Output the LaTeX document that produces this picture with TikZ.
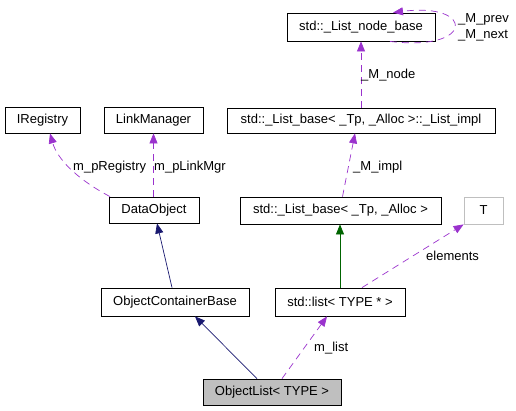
\documentclass[tikz,border=0pt]{standalone}
\usepackage{fontspec}
\setmainfont{Liberation Sans}
\usetikzlibrary{arrows.meta}
\definecolor{dep}{HTML}{9A32CD}
\definecolor{inh}{HTML}{191970}
\definecolor{tmpl}{HTML}{006400}
\definecolor{gry}{HTML}{BFBFBF}
\tikzset{
  cls/.style={draw=black, line width=0.8pt, inner sep=0pt, font=\fontsize{13}{15}\selectfont},
  lbl/.style={anchor=west, inner sep=0pt, font=\fontsize{13}{15}\selectfont},
  tip/.style={-{Triangle[length=10pt,width=8pt]}},
  depl/.style={tip, draw=dep, dash pattern=on 7pt off 5pt, line width=0.7pt},
  inhl/.style={tip, draw=inh, line width=0.7pt},
  tmpll/.style={tip, draw=tmpl, line width=0.7pt},
}
\begin{document}
\begin{tikzpicture}[x=1pt,y=-1pt]
\useasboundingbox (0,0) rectangle (516,410);
\node[cls, minimum width=148pt, minimum height=28pt] (nb) at (361,27) {std::\_List\_node\_base};
\node[cls, minimum width=75pt, minimum height=26pt] (ireg) at (42.5,120) {IRegistry};
\node[cls, minimum width=99pt, minimum height=26pt] (lm) at (153.5,120) {LinkManager};
\node[cls, minimum width=268pt, minimum height=25pt] (impl) at (361,120.5) {std::\_List\_base< \_Tp, \_Alloc >::\_List\_impl};
\node[cls, minimum width=90pt, minimum height=26pt] (dobj) at (154,210) {DataObject};
\node[cls, minimum width=201pt, minimum height=27pt] (lb) at (340.5,210.5) {std::\_List\_base< \_Tp, \_Alloc >};
\node[cls, draw=gry, minimum width=39pt, minimum height=27pt] (t) at (483.5,210.5) {T};
\node[cls, minimum width=148pt, minimum height=28pt] (ocb) at (175,302) {ObjectContainerBase};
\node[cls, minimum width=130pt, minimum height=28pt] (sl) at (340,302) {std::list< TYPE * >};
\node[cls, fill=gry, minimum width=138pt, minimum height=26pt] (ol) at (272,392) {ObjectList< TYPE >};

% self loop
\draw[depl] ([xshift=29pt]nb.south) .. controls (475,52) and (475,2) .. ([xshift=32pt]nb.north);
\node[lbl] (lprev) at (458,19) {\_M\_prev};
\node[lbl] (lnext) at (458,35) {\_M\_next};

% impl -> node base
\draw[depl] (impl.north -| nb.south) -- (nb.south);
\node[lbl] (lnode) at (361,75) {\_M\_node};

% DataObject -> IRegistry, LinkManager
\draw[depl] ([xshift=-44pt]dobj.north) .. controls (75,178) and (57,158) .. ([xshift=7.5pt]ireg.south);
\node[lbl] (lreg) at (73,167) {m\_pRegistry};
\draw[depl] (dobj.north -| lm.south) -- (lm.south);
\node[lbl] (llm) at (154,167) {m\_pLinkMgr};

% list base -> impl
\draw[depl] ([xshift=2pt]lb.north) -- ([xshift=-6pt]impl.south);
\node[lbl] (limpl) at (353,167) {\_M\_impl};

% OCB -> DataObject
\draw[inhl] ([xshift=-3pt]ocb.north) -- ([xshift=3pt]dobj.south);
% ObjectList -> OCB
\draw[inhl] ([xshift=-15pt]ol.north) -- ([xshift=20pt]ocb.south);

% std::list -> list base
\draw[tmpll] (sl.north) -- (sl.north |- lb.south);

% ObjectList -> std::list
\draw[depl] ([xshift=10pt]ol.north) -- ([xshift=-13pt]sl.south);
\node[lbl] (lml) at (314,348) {m\_list};

% std::list -> T
\draw[depl] ([xshift=22pt]sl.north) -- (t.south west);
\node[lbl] (lel) at (426,256) {elements};
\end{tikzpicture}
\end{document}
